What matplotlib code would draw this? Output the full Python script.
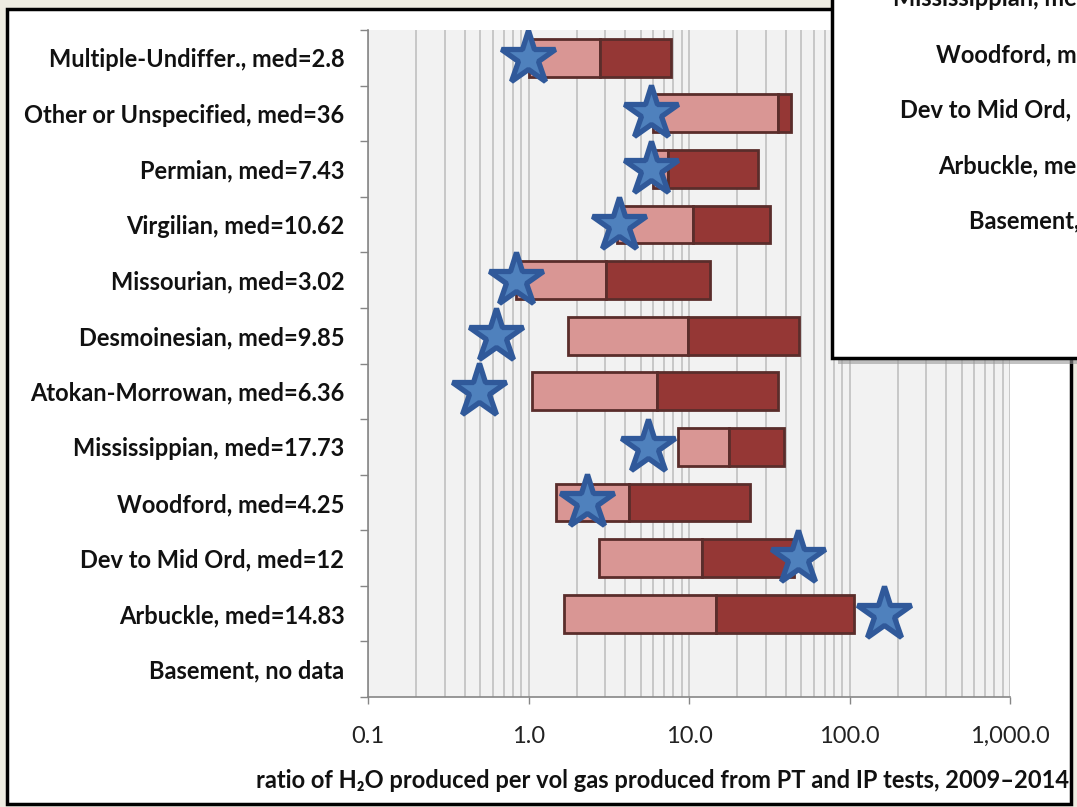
import numpy as np
import matplotlib
matplotlib.use("Agg")
import matplotlib.pyplot as plt
from matplotlib.patches import Rectangle

plt.rcParams['font.family'] = ['Lato', 'DejaVu Sans']

# categories, top to bottom
labels = ["Multiple-Undiffer., med=2.8", "Other or Unspecified, med=36",
          "Permian, med=7.43", "Virgilian, med=10.62", "Missourian, med=3.02",
          "Desmoinesian, med=9.85", "Atokan-Morrowan, med=6.36",
          "Mississippian, med=17.73", "Woodford, med=4.25",
          "Dev to Mid Ord, med=12", "Arbuckle, med=14.83", "Basement, no data"]
q1 = [1.0, 5.97, 5.97, 3.54, 0.84, 1.75, 1.05, 8.5, 1.48, 2.75, 1.66, np.nan]
med = [2.8, 36, 7.43, 10.62, 3.02, 9.85, 6.36, 17.73, 4.25, 12, 14.83, np.nan]
q3 = [7.7, 43.4, 26.8, 32.0, 13.6, 48.6, 36.0, 39.0, 24.0, 45.0, 106.7, np.nan]
star = [0.99, 5.8, 5.8, 3.65, 0.84, 0.63, 0.49, 5.58, 2.31, 47.7, 164, np.nan]

xticks = [0.1, 1, 10, 100, 1000]
xticklabels = ["0.1", "1.0", "10.0", "100.0", "1,000.0"]

W, H = 1077, 807
FS = 17
fig = plt.figure(figsize=(W / 100, H / 100), dpi=100)
fig.patch.set_facecolor('#eeece1')

def px(x0, y0, x1, y1):
    # pixel box (top-left origin) -> figure fraction rect
    return [x0 / W, 1 - y1 / H, (x1 - x0) / W, (y1 - y0) / H]

# white panel with black frame
r = px(7, 9, 1071, 804)
fig.patches.append(Rectangle((r[0], r[1]), r[2], r[3], transform=fig.transFigure,
                             facecolor='white', edgecolor='black', lw=2.5, zorder=-1))

ax = fig.add_axes(px(368, 30, 1010, 697))
ax.set_facecolor('#f2f2f2')
ax.set_xscale('log')
ax.set_xlim(0.1, 1000)
n = len(labels)
ax.set_ylim(n, 0)
y = np.arange(n) + 0.5

q1a, meda, q3a = np.array(q1), np.array(med), np.array(q3)
edge = '#5a2d2b'
ax.barh(y, meda - q1a, left=q1a, height=0.68, color='#d99694', edgecolor=edge, lw=2, zorder=3)
ax.barh(y, q3a - meda, left=meda, height=0.68, color='#953735', edgecolor=edge, lw=2, zorder=3)
ax.plot(star, y, ls='none', marker='*', ms=41, mfc='#4f81bd', mec='#30599a', mew=3.8, zorder=4)

# grid at all decades and sub-decades
ax.grid(True, which='both', axis='x', color='#c4c4c4', lw=1.3, zorder=1)
ax.set_axisbelow(True)
ax.set_xticks(xticks)
ax.set_xticklabels(xticklabels)
ax.xaxis.set_minor_locator(matplotlib.ticker.LogLocator(subs=np.arange(2, 10)))
ax.xaxis.set_minor_formatter(matplotlib.ticker.NullFormatter())
ax.tick_params(axis='x', which='major', length=5, width=1, color='#868686', pad=16,
               labelsize=FS, labelcolor='#222222')
ax.tick_params(axis='x', which='minor', length=0)

ax.set_yticks(y)
ax.set_yticklabels(labels, fontweight='bold')
ax.set_yticks(np.arange(n + 1), minor=True)
ax.tick_params(axis='y', which='major', length=0, pad=17, labelsize=FS, labelcolor='#111111')
ax.tick_params(axis='y', which='minor', length=6, width=1, color='#868686')

for s in ['top', 'right']:
    ax.spines[s].set_visible(False)
for s in ['left', 'bottom']:
    ax.spines[s].set_color('#868686')
    ax.spines[s].set_linewidth(1.2)

fig.text(1069 / W, 1 - 780 / H,
         "ratio of H\u2082O produced per vol gas produced from PT and IP tests, 2009\u20132014",
         ha='right', va='center', fontsize=FS, fontweight='bold', color='#111111')

# pasted copy of the chart overlapping the top right corner
dx, dy = 820, -448
sh = px(832 + 6, -20, 1100, 358 + 6)
fig.patches.append(Rectangle((sh[0], sh[1]), sh[2], sh[3], transform=fig.transFigure,
                             facecolor='#9a9a9a', edgecolor='none', alpha=0.6, zorder=5))
ib = px(832, -20, 1100, 358)
fig.patches.append(Rectangle((ib[0], ib[1]), ib[2], ib[3], transform=fig.transFigure,
                             facecolor='white', edgecolor='black', lw=2.5, zorder=6))
for i, lab in enumerate(labels):
    yc = 30 + (697 - 30) / n * (i + 0.5) + dy
    if -30 < yc < 340:
        fig.text((344 + dx) / W, 1 - yc / H, lab, ha='right', va='center', fontsize=FS,
                 fontweight='bold', color='#111111', zorder=7)

fig.savefig('out.png', dpi=100, facecolor=fig.get_facecolor())
